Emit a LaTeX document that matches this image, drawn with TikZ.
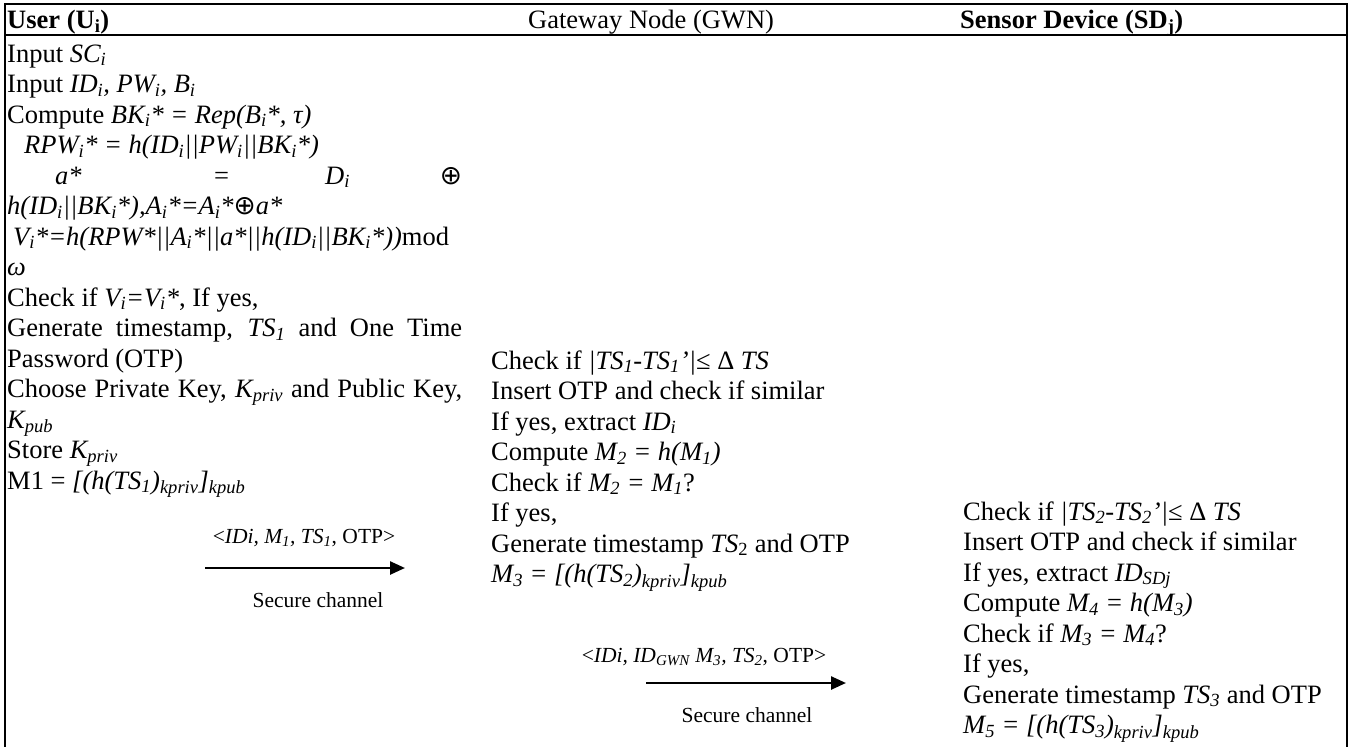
\documentclass[tikz,border=0pt]{standalone}
\usepackage{fontspec}
\setmainfont{Liberation Serif}
\newfontfamily\symfnt{DejaVu Sans}
\usetikzlibrary{arrows.meta}
\newcommand{\sbs}[1]{\textsubscript{#1}}
\newcommand{\xorop}{{\symfnt ⊕}}
\begin{document}
\begin{tikzpicture}[x=1pt,y=-1pt,
  txt/.style={anchor=north west, inner sep=0pt, align=left, font=\fontsize{26.5}{30.5}\selectfont},
  hdr/.style={anchor=base west, inner sep=0pt, font=\fontsize{26.5}{30.5}\selectfont},
  lbl/.style={anchor=base, inner sep=0pt, font=\fontsize{21.5}{24}\selectfont},
  frame/.style={line width=1.5pt, line join=miter},
  msg/.style={line width=2.5pt, -{Triangle[length=15pt,width=13pt]}}]
\useasboundingbox (0,0) rectangle (1358,747);
\draw[frame] (5,747) -- (5,4) -- (1347,4) -- (1347,747);
\draw[frame] (5,35) -- (1347,35);
% headers
\node[hdr] (hU) at (7,28) {\textbf{User (U\sbs{i})}};
\node[hdr] (hG) at (528,28) {Gateway Node (GWN)};
\node[hdr] (hS) at (960,28) {\textbf{Sensor Device (SD\sbs{j})}};
% user column
\node[txt] (user) at (7,40.65) {\strut Input \textit{SC\sbs{i}}\\
Input \textit{ID\sbs{i}, PW\sbs{i}, B\sbs{i}}\\
Compute \textit{BK\sbs{i}* = Rep(B\sbs{i}*, τ)}\\
\hspace*{17pt}\textit{RPW\sbs{i}* = h(ID\sbs{i}||PW\sbs{i}||BK\sbs{i}*)}\\
\hbox to 455pt{\rlap{\hspace*{48pt}\textit{a*}}\rlap{\hspace*{207pt}=}\rlap{\hspace*{318pt}\textit{D\sbs{i}}}\hfill\xorop}\\
\textit{h(ID\sbs{i}||BK\sbs{i}*),A\sbs{i}*=A\sbs{i}*}\xorop\textit{a*}\\
\hspace*{6pt}\textit{V\sbs{i}*=h(RPW*||A\sbs{i}*||a*||h(ID\sbs{i}||BK\sbs{i}*))}mod\\
\textit{ω}\\
Check if \textit{V\sbs{i}=V\sbs{i}*}, If yes,\\
\makebox[455pt][s]{Generate timestamp, \textit{TS\sbs{1}} and One Time}\\
Password (OTP)\\
\makebox[455pt][s]{Choose Private Key, \textit{K\sbs{priv}} and Public Key,}\\
\textit{K\sbs{pub}}\\
Store \textit{K\sbs{priv}}\\
M1 = \textit{[(h(TS\sbs{1})\sbs{kpriv}]\sbs{kpub}}};
% gateway column
\node[txt] (gwn) at (491,347.65) {\strut Check if \textit{|TS\sbs{1}-TS\sbs{1}’|}≤ Δ \textit{TS}\\
Insert OTP and check if similar\\
If yes, extract \textit{ID\sbs{i}}\\
Compute \textit{M\sbs{2} = h(M\sbs{1})}\\
Check if \textit{M\sbs{2} = M\sbs{1}}?\\
If yes,\\
Generate timestamp \textit{TS}\sbs{2} and OTP\\
\textit{M\sbs{3} = [(h(TS\sbs{2})\sbs{kpriv}]\sbs{kpub}}};
% sensor column
\node[txt] (sd) at (963,498.65) {\strut Check if \textit{|TS\sbs{2}-TS\sbs{2}’|}≤ Δ \textit{TS}\\
Insert OTP and check if similar\\
If yes, extract \textit{ID\sbs{SDj}}\\
Compute \textit{M\sbs{4} = h(M\sbs{3})}\\
Check if \textit{M\sbs{3} = M\sbs{4}}?\\
If yes,\\
Generate timestamp \textit{TS\sbs{3}} and OTP\\
\textit{M\sbs{5} = [(h(TS\sbs{3})\sbs{kpriv}]\sbs{kpub}}};
% message 1
\node[lbl] (l1) at (304,543) {<\textit{IDi, M\sbs{1}, TS\sbs{1}}, OTP>};
\coordinate (a1s) at (205,568);
\coordinate (a1e) at (405,568);
\draw[msg] (a1s) -- (a1e);
\node[lbl] (s1) at (318,607) {Secure channel};
% message 2
\node[lbl] (l2) at (704,662) {<\textit{IDi, ID\sbs{GWN} M\sbs{3}, TS\sbs{2}}, OTP>};
\coordinate (a2s) at (646,683);
\coordinate (a2e) at (846,683);
\draw[msg] (a2s) -- (a2e);
\node[lbl] (s2) at (747,722) {Secure channel};
\end{tikzpicture}
\end{document}
